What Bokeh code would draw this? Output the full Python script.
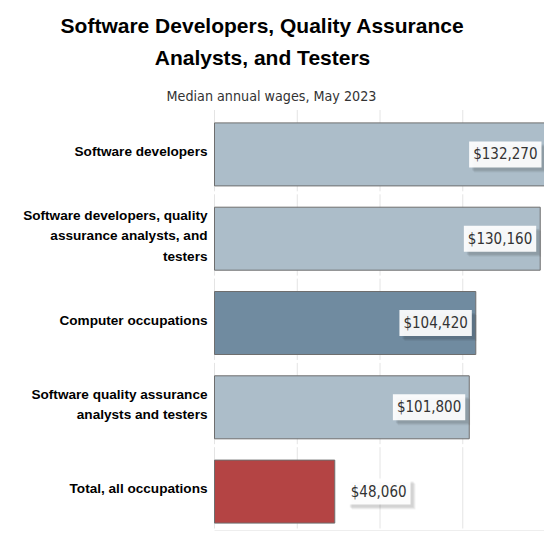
from bokeh.plotting import figure
from bokeh.models import Label
from bokeh.core.properties import value
from bokeh.embed import file_html
from bokeh.resources import INLINE

# ---- data ----
categories = [
    "Software developers",
    "Software developers, quality\nassurance analysts, and\ntesters",
    "Computer occupations",
    "Software quality assurance\nanalysts and testers",
    "Total, all occupations",
]
wages = [132270, 130160, 104420, 101800, 48060]
title_lines = ["Software Developers, Quality Assurance", "Analysts, and Testers"]
subtitle = "Median annual wages, May 2023"

# ---- style ----
LIGHT = "#acbdc9"
DARK = "#708ba0"
RED = "#b44444"
bar_colors = [LIGHT, LIGHT, DARK, LIGHT, RED]

W, H = 544, 531          # canvas size
PLOT_L, PLOT_W = 214, 331  # pixel position / width of the value axis
BAND_TOP, BAND_BOT = 108, 529.5  # pixel extent of the category bands

n = len(categories)
ypos = [n - 1 - i for i in range(n)]
xmax = max(wages)

sx = xmax / PLOT_W                 # data units per pixel (x)
u = (BAND_BOT - BAND_TOP) / n      # pixels per category band
y_top = (n - 0.5) + BAND_TOP / u
y_bot = -0.5 - (H - BAND_BOT) / u

def px_x(px):
    return (px - PLOT_L) * sx

def px_y(py):
    return (n - 0.5) + (BAND_TOP - py) / u

p = figure(width=W, height=H, x_range=(px_x(0), px_x(W)), y_range=(y_bot, y_top),
           output_backend="svg", toolbar_location=None,
           min_border_left=0, min_border_right=0, min_border_top=0, min_border_bottom=0)
p.outline_line_color = None
p.grid.visible = False
p.axis.visible = False

# segmented vertical grid lines (one segment per row band)
gap = 1.5 / u
gx, gy0, gy1 = [], [], []
for k in range(5):
    tk = xmax * k / 4
    for yc in ypos:
        gx.append(tk)
        gy0.append(yc - 0.5 + gap)
        gy1.append(yc + 0.5 - gap)
p.segment(x0=gx, x1=gx, y0=gy0, y1=gy1, line_color="#e4e4e4", line_width=1)

# bottom rule
p.segment(x0=[0], x1=[xmax], y0=[-0.5 - 1.0 / u], y1=[-0.5 - 1.0 / u],
          line_color="#dddddd", line_width=1)

bar_off = 3.75 / u
bar_y = [y - bar_off for y in ypos]
p.hbar(y=bar_y, left=0, right=wages, height=63 / u, fill_color=bar_colors,
       line_color="#6e6e6e", line_width=1)

# category labels
p.text(x=[0] * n, y=[y - 1.0 / u for y in ypos], text=categories, x_offset=-7,
       text_align="right", text_baseline="middle", text_font=value("Liberation Sans"),
       text_font_style="bold", text_font_size="13.6px", text_color="#000000",
       text_line_height=1.35)

# value labels with a faux drop shadow
pad = 4
for v, y in zip(wages, bar_y):
    txt = "${:,}".format(v)
    if v > 0.5 * xmax:
        align, xo = "right", -pad
    else:
        align, xo = "left", 8 + pad
    for dx, dy, a in [(5, -5, 0.05), (4, -4, 0.06), (3, -3, 0.07)]:
        p.add_layout(Label(x=v, y=y, text=txt, x_offset=xo + dx, y_offset=dy, text_align=align,
                           text_baseline="middle", text_font="DejaVu Sans Condensed",
                           text_font_size="15px", text_color="#000000", text_alpha=0.01,
                           background_fill_color="#000000", background_fill_alpha=a,
                           padding=pad))
    p.add_layout(Label(x=v, y=y, text=txt, x_offset=xo, y_offset=0, text_align=align,
                       text_baseline="middle", text_font="DejaVu Sans Condensed",
                       text_font_size="15px", text_color="#333333",
                       background_fill_color="#ffffff", background_fill_alpha=0.92,
                       padding=pad))

# titles
p.text(x=[px_x(262)] * 2, y=[px_y(25), px_y(57)], text=title_lines, text_align="center",
       text_baseline="alphabetic", text_font=value("Liberation Sans"),
       text_font_style="bold", text_font_size="21px", text_color="#000000")
p.text(x=[px_x(271)], y=[px_y(95)], text=[subtitle], text_align="center",
       text_baseline="alphabetic", text_font=value("DejaVu Sans Condensed"),
       text_font_size="14.2px", text_color="#333333")

open("out.html", "w").write(file_html(p, INLINE))
